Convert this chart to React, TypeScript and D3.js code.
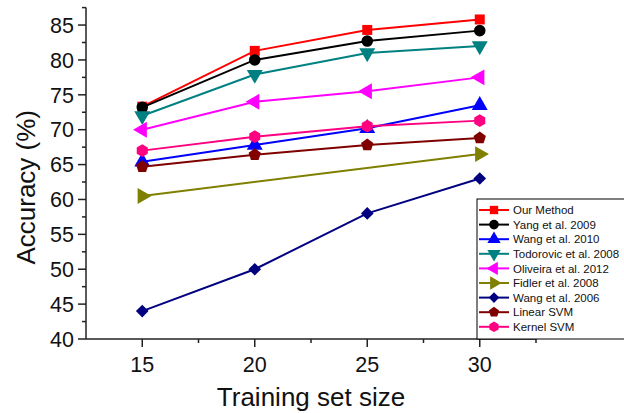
import * as d3 from "d3";

const sizes = [15, 20, 25, 30];
const xTicks = [15, 20, 25, 30];
const yTicks = [40, 45, 50, 55, 60, 65, 70, 75, 80, 85];

const ourMethod = [73.3, 81.3, 84.3, 85.8];
const yang2009 = [73.2, 80.0, 82.7, 84.2];
const wang2010 = [65.4, 67.8, 70.2, 73.5];
const todorovic2008 = [72.0, 77.9, 81.0, 82.0];
const oliveira2012 = [70.0, 74.0, 75.5, 77.5];
const fidler2008 = [60.5, null, null, 66.5];
const wang2006 = [44.0, 50.0, 58.0, 63.0];
const linearSvm = [64.7, 66.4, 67.8, 68.8];
const kernelSvm = [67.0, 69.0, 70.5, 71.3];

const polygon = (n: number, rot: number) => ({
  draw(ctx: any, size: number) {
    // size is the area, like d3's own symbols
    const r = Math.sqrt((2 * size) / (n * Math.sin((2 * Math.PI) / n)));
    for (let i = 0; i < n; i++) {
      const a = rot + (i * 2 * Math.PI) / n;
      const px = r * Math.sin(a);
      const py = -r * Math.cos(a);
      if (i === 0) ctx.moveTo(px, py);
      else ctx.lineTo(px, py);
    }
    ctx.closePath();
  },
});

const series = [
  { name: "Our Method", values: ourMethod, color: "#ff0000", type: d3.symbolSquare, size: 100, rot: 0 },
  { name: "Yang et al. 2009", values: yang2009, color: "#000000", type: d3.symbolCircle, size: 105, rot: 0 },
  { name: "Wang et al. 2010", values: wang2010, color: "#0000ff", type: d3.symbolTriangle, size: 110, rot: 0 },
  { name: "Todorovic et al. 2008", values: todorovic2008, color: "#008080", type: d3.symbolTriangle, size: 110, rot: 180 },
  { name: "Oliveira et al. 2012", values: oliveira2012, color: "#ff00ff", type: d3.symbolTriangle, size: 110, rot: -90 },
  { name: "Fidler et al. 2008", values: fidler2008, color: "#808000", type: d3.symbolTriangle, size: 110, rot: 90 },
  { name: "Wang et al. 2006", values: wang2006, color: "#000080", type: d3.symbolSquare, size: 80, rot: 45 },
  { name: "Linear SVM", values: linearSvm, color: "#800000", type: polygon(5, 0), size: 100, rot: 0 },
  { name: "Kernel SVM", values: kernelSvm, color: "#ff0080", type: polygon(6, 0), size: 105, rot: 0 },
];

const W = 624;
const H = 413;
const font = "'Liberation Sans', Arial, sans-serif";

export default function App() {
  const x = d3.scaleLinear().domain([12.5, 32.5]).range([86, 536]);
  const y = d3.scaleLinear().domain([40, 87.5]).range([339, 7.6]);
  const line = d3
    .line<[number, number]>()
    .x((d) => x(d[0]))
    .y((d) => y(d[1]));

  const xMinor = d3.range(17.5, 33, 5);
  const yMinor = d3.range(42.5, 88, 5);
  const axisColor = "#222";

  const legendX = 477;
  const legendY = 199;
  const rowH = 14.6;

  return (
    <div style={{ position: "fixed", left: 0, top: 0 }}>
      <svg width={W} height={H} style={{ display: "block", background: "#fff" }} fontFamily={font}>
        {/* series */}
        {series.map((s) => {
          const pts = sizes
            .map((sz, i) => [sz, s.values[i]] as [number, number | null])
            .filter((p) => p[1] !== null) as [number, number][];
          const sym = d3.symbol().type(s.type as any).size(s.size)();
          return (
            <g key={s.name}>
              <path d={line(pts) ?? ""} fill="none" stroke={s.color} strokeWidth={2} />
              {pts.map((p, i) => (
                <path
                  key={i}
                  d={sym ?? ""}
                  transform={`translate(${x(p[0])},${y(p[1])}) rotate(${s.rot})`}
                  fill={s.color}
                />
              ))}
            </g>
          );
        })}

        {/* y axis */}
        <line x1={x(12.5)} x2={x(12.5)} y1={y(87.5)} y2={y(40)} stroke={axisColor} strokeWidth={1.5} />
        {yTicks.map((t) => (
          <g key={t}>
            <line x1={x(12.5) - 8} x2={x(12.5)} y1={y(t)} y2={y(t)} stroke={axisColor} strokeWidth={1.5} />
            <text x={x(12.5) - 12} y={y(t)} dy="0.36em" textAnchor="end" fontSize={21.5} fill="#111">
              {t}
            </text>
          </g>
        ))}
        {yMinor.map((t) => (
          <line key={t} x1={x(12.5) - 4} x2={x(12.5)} y1={y(t)} y2={y(t)} stroke={axisColor} strokeWidth={1.5} />
        ))}

        {/* x axis */}
        <line x1={x(12.5)} x2={x(32.5)} y1={y(40)} y2={y(40)} stroke={axisColor} strokeWidth={1.5} />
        {xTicks.map((t) => (
          <g key={t}>
            <line x1={x(t)} x2={x(t)} y1={y(40)} y2={y(40) + 8} stroke={axisColor} strokeWidth={1.5} />
            <text x={x(t)} y={y(40) + 33} textAnchor="middle" fontSize={21.5} fill="#111">
              {t}
            </text>
          </g>
        ))}
        {xMinor.map((t) => (
          <line key={t} x1={x(t)} x2={x(t)} y1={y(40)} y2={y(40) + 4} stroke={axisColor} strokeWidth={1.5} />
        ))}

        {/* axis titles */}
        <text x={311} y={406} textAnchor="middle" fontSize={26} fill="#111">
          Training set size
        </text>
        <text
          transform={`translate(35,${(y(40) + y(87.5)) / 2 + 14}) rotate(-90)`}
          textAnchor="middle"
          fontSize={26}
          fill="#111"
        >
          Accuracy (%)
        </text>

        {/* legend */}
        <rect x={legendX} y={legendY} width={170} height={y(40) - legendY} fill="#fff" stroke="#000" strokeWidth={1} />
        {series.map((s, i) => {
          const cy = legendY + 11 + i * rowH;
          const sym = d3.symbol().type(s.type as any).size(s.size * 0.7)();
          return (
            <g key={s.name}>
              <line x1={legendX + 2} x2={legendX + 32} y1={cy} y2={cy} stroke={s.color} strokeWidth={2} />
              <path d={sym ?? ""} transform={`translate(${legendX + 17},${cy}) rotate(${s.rot})`} fill={s.color} />
              <text x={legendX + 36} y={cy} dy="0.36em" fontSize={11.5} fill="#111">
                {s.name}
              </text>
            </g>
          );
        })}
      </svg>
    </div>
  );
}
